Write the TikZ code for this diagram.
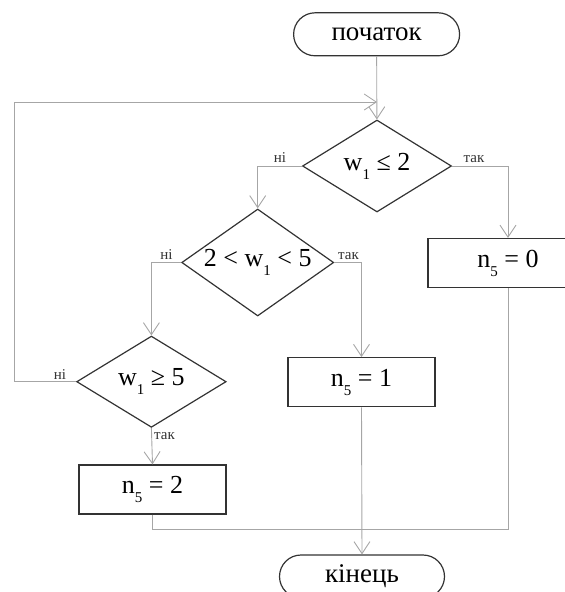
\documentclass[tikz,border=0pt]{standalone}
\usepackage{fontspec}
\setmainfont{Liberation Serif}
\usetikzlibrary{arrows.meta,shapes.geometric}
\newcommand\sbs[1]{\raisebox{-0.75ex}{\fontsize{15}{15}\selectfont #1}}
\begin{document}
\begin{tikzpicture}[x=1pt,y=-1pt,
  blk/.style={draw=black!80, line width=1.2pt, font=\fontsize{26}{28}\selectfont, inner sep=0pt},
  term/.style={blk, rounded corners=21.5pt, minimum width=166pt, minimum height=43pt, font=\fontsize{27}{28}\selectfont},
  proc/.style={blk, minimum width=147pt, minimum height=49pt},
  dec/.style={blk, diamond},
  txt/.style={font=\fontsize{26}{28}\selectfont, inner sep=0pt},
  conn/.style={draw=black!35, line width=0.9pt},
  arr/.style={conn, -{Straight Barb[length=12pt,width=16pt]}},
  lab/.style={font=\fontsize{15}{15}\selectfont, text=black!80, inner sep=1pt}]
\useasboundingbox (0,0) rectangle (565,592);
\clip (0,0) rectangle (565,592);

\node[term] (start) at (376.6,34.3) {початок};
\node[dec, minimum width=149pt, minimum height=92pt] (d1) at (377,166) {};
\node[txt] (t1) at (d1) {w\sbs{1} ≤ 2};
\node[dec, minimum width=152pt, minimum height=107pt] (d2) at (257.7,262.5) {};
\node[txt] (t2) at (d2) {2 < w\sbs{1} < 5};
\node[dec, minimum width=149.5pt, minimum height=91.3pt] (d3) at (151.4,381.7) {};
\node[txt] (t3) at (d3) {w\sbs{1} ≥ 5};
\node[proc, minimum width=160pt] (b0) at (508,263) {n\sbs{5} = 0};
\node[proc] (b1) at (361.5,382.2) {n\sbs{5} = 1};
\node[proc] (b2) at (152.5,489.5) {n\sbs{5} = 2};
\node[term, minimum width=165pt] (end) at (362,576.5) {кінець};

\draw[arr] (start) -- (d1);
\coordinate (lpT) at (14.4,102);
\coordinate (lpJ) at (377,102);
\draw[arr] (d3.west) -| (lpT) -- (lpJ);
\draw[arr] (d1.west) -| (d2.north);
\draw[arr] (d1.east) -| (b0.north);
\draw[arr] (d2.west) -| (d3.north);
\draw[arr] (d2.east) -| (b1.north);
\draw[arr] (d3.south) -- (b2.north);
\coordinate (mg) at (0,529);
\draw[conn] (b2.south) -- (b2.south |- mg) -| (b0.south);
\draw[arr] (b1.south) -- (end.north);

\node[lab, anchor=south] (l1) at (280,164) {ні};
\node[lab, anchor=south] (l2) at (474,164) {так};
\node[lab, anchor=south] (l3) at (166.5,261) {ні};
\node[lab, anchor=south] (l4) at (348.5,261) {так};
\node[lab, anchor=south] (l5) at (60,380.5) {ні};
\node[lab, anchor=west] (l6) at (153,436) {так};
\end{tikzpicture}
\end{document}
